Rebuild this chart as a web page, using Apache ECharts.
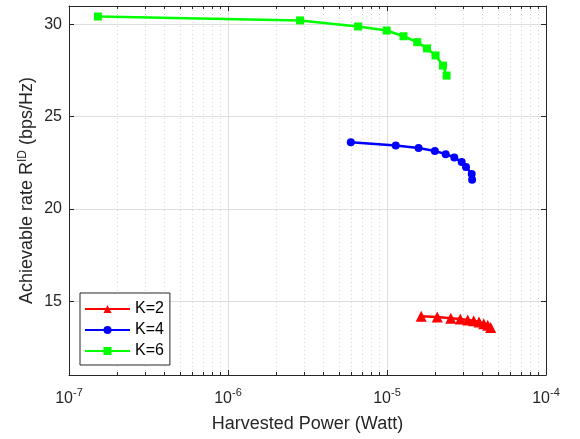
<!DOCTYPE html>
<html>
<head>
<meta charset="utf-8">
<script src="https://cdn.jsdelivr.net/npm/echarts@6/dist/echarts.min.js"></script>
<style>
  html, body { margin: 0; padding: 0; background: #fff; }
  #chart { width: 580px; height: 439px; }
</style>
</head>
<body>
<div id="chart"></div>
<script>
// harvested power (W) and rate (bps/Hz)
const k2Power = [1.64e-5, 2.07e-5, 2.52e-5, 2.89e-5, 3.22e-5, 3.51e-5, 3.79e-5, 4.06e-5, 4.30e-5, 4.49e-5]
const k2Rate = [14.18, 14.14, 14.08, 14.04, 13.98, 13.94, 13.87, 13.78, 13.69, 13.58]
const k4Power = [5.92e-6, 1.135e-5, 1.58e-5, 2.0e-5, 2.34e-5, 2.65e-5, 2.95e-5, 3.14e-5, 3.41e-5, 3.43e-5]
const k4Rate = [23.62, 23.44, 23.30, 23.14, 22.97, 22.79, 22.54, 22.28, 21.90, 21.58]
const k6Power = [1.52e-7, 2.84e-6, 6.58e-6, 9.95e-6, 1.27e-5, 1.55e-5, 1.785e-5, 2.02e-5, 2.25e-5, 2.37e-5]
const k6Rate = [30.43, 30.22, 29.89, 29.67, 29.36, 29.04, 28.70, 28.32, 27.77, 27.23]

const axisColor = '#262626'
const font = 'Liberation Sans'

function pairs(xs, ys) {
  return xs.map((x, i) => [x, ys[i]])
}

const chart = echarts.init(document.getElementById('chart'))

const xCommon = {
  type: 'log',
  logBase: 10,
  min: 1e-7,
  max: 1e-4,
  axisLine: { show: true, lineStyle: { color: axisColor, width: 1 } },
  axisTick: { inside: true, length: 5, lineStyle: { color: axisColor } },
  minorTick: { show: true, splitNumber: 9, length: 3, lineStyle: { color: axisColor } },
}

const yCommon = {
  type: 'value',
  min: 11,
  max: 31,
  splitNumber: 4,
  axisLine: { show: true, lineStyle: { color: axisColor, width: 1 } },
  axisTick: { inside: true, length: 5, lineStyle: { color: axisColor } },
}

const series = [
  { name: 'K=2', color: '#ff0000', symbol: 'triangle', size: 11, power: k2Power, rate: k2Rate },
  { name: 'K=4', color: '#0000ff', symbol: 'circle', size: 8, power: k4Power, rate: k4Rate },
  { name: 'K=6', color: '#00ff00', symbol: 'rect', size: 8, power: k6Power, rate: k6Rate },
].map(s => ({
  name: s.name,
  type: 'line',
  data: pairs(s.power, s.rate),
  symbol: s.symbol,
  symbolSize: s.size,
  showAllSymbol: true,
  lineStyle: { color: s.color, width: 2.5 },
  itemStyle: { color: s.color },
  emphasis: { disabled: true },
  animation: false,
}))

const option = {
  animation: false,
  textStyle: { fontFamily: font },
  grid: { left: 69, right: 34, top: 6, bottom: 64 },
  legend: {
    orient: 'vertical',
    left: 80,
    top: 293,
    itemWidth: 45,
    itemHeight: 10,
    itemGap: 5,
    padding: [8, 6, 6, 4],
    borderColor: '#262626',
    borderWidth: 1,
    backgroundColor: '#fff',
    textStyle: { fontSize: 16, color: '#000', fontFamily: font },
    data: ['K=2', 'K=4', 'K=6'],
  },
  xAxis: [
    Object.assign({}, xCommon, {
      position: 'bottom',
      name: 'Harvested Power (Watt)',
      nameLocation: 'middle',
      nameGap: 40,
      nameMoveOverlap: false,
      nameTextStyle: { fontSize: 18, color: axisColor, fontFamily: font },
      axisLabel: {
        margin: 12,
        color: axisColor,
        formatter: v => '{b|10}{s|' + Math.round(Math.log10(v)) + '}',
        rich: {
          b: { fontSize: 16, color: axisColor, fontFamily: font, verticalAlign: 'bottom' },
          s: { fontSize: 11, color: axisColor, fontFamily: font, verticalAlign: 'top', padding: [0, 0, 9, 0] },
        },
      },
      splitLine: { show: true, lineStyle: { color: '#dedede', width: 1 } },
      minorSplitLine: { show: true, lineStyle: { color: '#d4d4d4', width: 1, type: [1, 3] } },
    }),
    Object.assign({}, xCommon, {
      position: 'top',
      axisLabel: { show: false },
      splitLine: { show: false },
    }),
  ],
  yAxis: [
    Object.assign({}, yCommon, {
      position: 'left',
      name: 'Achievable rate R{s|ID} (bps/Hz)',
      nameLocation: 'middle',
      nameGap: 31,
      nameMoveOverlap: false,
      nameTextStyle: {
        fontSize: 18,
        color: axisColor,
        fontFamily: font,
        rich: {
          s: { fontSize: 12, color: axisColor, fontFamily: font, padding: [0, 0, 9, 0] },
        },
      },
      axisLabel: {
        fontSize: 16,
        color: axisColor,
        margin: 7,
        formatter: v => (v % 5 === 0 ? String(v) : ''),
      },
      splitLine: { show: true, lineStyle: { color: '#dedede', width: 1 } },
    }),
    Object.assign({}, yCommon, {
      position: 'right',
      axisLabel: { show: false },
      splitLine: { show: false },
    }),
  ],
  series: series,
}

chart.setOption(option)
</script>
</body>
</html>
